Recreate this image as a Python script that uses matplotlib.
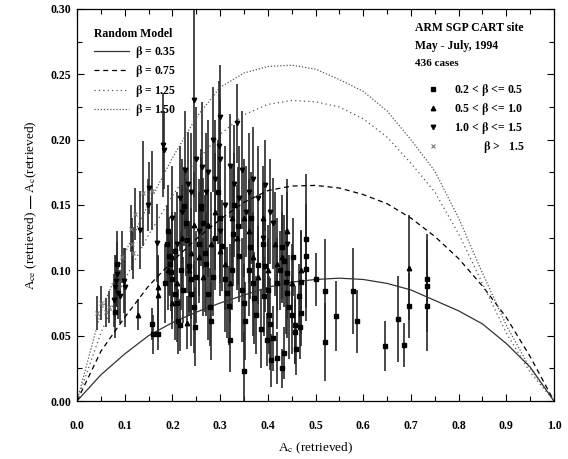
import matplotlib
matplotlib.use('Agg')
import matplotlib.pyplot as plt
from matplotlib.lines import Line2D

plt.rcParams['font.family'] = ['Liberation Serif', 'DejaVu Serif']
plt.rcParams['mathtext.fontset'] = 'stix'

################################################################
# random model curves
model_x = [0.0, 0.05, 0.1, 0.15, 0.2, 0.25, 0.3, 0.35, 0.4, 0.45, 0.5,
           0.55, 0.6, 0.65, 0.7, 0.75, 0.8, 0.85, 0.9, 0.95, 1.0]
beta_035 = [0.0, 0.020, 0.036, 0.050, 0.060, 0.068, 0.075, 0.081, 0.087, 0.091, 0.093,
            0.094, 0.093, 0.090, 0.085, 0.077, 0.069, 0.059, 0.044, 0.026, 0.0]
beta_075 = [0.0, 0.038, 0.064, 0.088, 0.107, 0.124, 0.139, 0.152, 0.161, 0.1645, 0.165,
            0.163, 0.158, 0.151, 0.140, 0.126, 0.109, 0.088, 0.064, 0.034, 0.0]
beta_125 = [0.0, 0.052, 0.093, 0.127, 0.157, 0.183, 0.204, 0.219, 0.227, 0.230, 0.229,
            0.225, 0.216, 0.202, 0.182, 0.160, 0.128, 0.090, 0.052, 0.022, 0.0]
beta_150 = [0.0, 0.068, 0.113, 0.151, 0.186, 0.217, 0.240, 0.251, 0.256, 0.257, 0.254,
            0.246, 0.237, 0.222, 0.200, 0.176, 0.140, 0.098, 0.058, 0.025, 0.0]

# 0.2 < beta <= 0.5 (squares)
sq_x = [0.080, 0.084, 0.158, 0.160, 0.169, 0.188, 0.192, 0.195, 0.198, 0.200, 0.205, 0.210, 0.212, 0.216,
        0.225, 0.228, 0.230, 0.235, 0.238, 0.240, 0.245, 0.248, 0.260, 0.265, 0.268, 0.270, 0.275, 0.278, 0.280,
        0.295, 0.300, 0.305, 0.310, 0.315, 0.318, 0.320, 0.330, 0.338, 0.340, 0.345, 0.350, 0.352, 0.351,
        0.365, 0.370, 0.372, 0.375, 0.385, 0.390, 0.395, 0.398, 0.400, 0.403, 0.405, 0.407, 0.410, 0.419, 0.430, 0.433,
        0.430, 0.435, 0.438, 0.440, 0.445, 0.450, 0.457, 0.458, 0.460, 0.467, 0.470, 0.470, 0.481, 0.481, 0.481,
        0.500, 0.520, 0.520, 0.544, 0.579, 0.588, 0.645, 0.672, 0.686, 0.695, 0.734, 0.734, 0.734,
        0.185, 0.190, 0.205, 0.218, 0.222, 0.250, 0.255, 0.285, 0.290, 0.325, 0.328, 0.360, 0.362, 0.380,
        0.392, 0.420, 0.425, 0.440, 0.452, 0.465]
sq_y = [0.068, 0.105, 0.059, 0.051, 0.051, 0.120, 0.111, 0.105, 0.099, 0.093, 0.082, 0.075, 0.061, 0.058,
        0.149, 0.136, 0.123, 0.103, 0.093, 0.082, 0.072, 0.057, 0.149, 0.136, 0.113, 0.105, 0.082, 0.072, 0.061,
        0.160, 0.140, 0.119, 0.093, 0.083, 0.073, 0.047, 0.150, 0.134, 0.111, 0.085, 0.075, 0.061, 0.023,
        0.140, 0.090, 0.079, 0.066, 0.055, 0.120, 0.103, 0.047, 0.085, 0.066, 0.059, 0.031, 0.048, 0.033, 0.025, 0.037,
        0.118, 0.107, 0.091, 0.083, 0.072, 0.066, 0.053, 0.058, 0.040, 0.057, 0.091, 0.067, 0.124, 0.111, 0.101,
        0.093, 0.084, 0.045, 0.065, 0.084, 0.061, 0.042, 0.063, 0.043, 0.073, 0.093, 0.088, 0.073,
        0.090, 0.130, 0.115, 0.100, 0.085, 0.095, 0.120, 0.095, 0.125, 0.100, 0.128, 0.100, 0.118, 0.104,
        0.080, 0.090, 0.100, 0.098, 0.110, 0.080]
sq_e = [0.02, 0.025, 0.012, 0.015, 0.012, 0.03, 0.03, 0.025, 0.03, 0.03, 0.035, 0.03, 0.025, 0.02,
        0.03, 0.04, 0.04, 0.035, 0.03, 0.04, 0.035, 0.03, 0.04, 0.035, 0.045, 0.04, 0.035, 0.03, 0.03,
        0.04, 0.045, 0.035, 0.04, 0.035, 0.03, 0.025, 0.04, 0.045, 0.035, 0.04, 0.03, 0.03, 0.03,
        0.035, 0.04, 0.035, 0.03, 0.03, 0.04, 0.035, 0.02, 0.04, 0.03, 0.035, 0.02, 0.025, 0.02, 0.015, 0.02,
        0.04, 0.035, 0.04, 0.035, 0.04, 0.03, 0.025, 0.03, 0.02, 0.025, 0.04, 0.025, 0.05, 0.04, 0.04,
        0.02, 0.04, 0.03, 0.027, 0.033, 0.024, 0.019, 0.033, 0.017, 0.025, 0.035, 0.035, 0.035,
        0.03, 0.035, 0.03, 0.03, 0.025, 0.035, 0.04, 0.03, 0.04, 0.03, 0.04, 0.035, 0.04, 0.03,
        0.03, 0.035, 0.03, 0.035, 0.03, 0.025]

# 0.5 < beta <= 1.0 (up triangles)
ut_x = [0.128, 0.169, 0.169, 0.190, 0.200, 0.200, 0.220, 0.230, 0.240, 0.245, 0.260, 0.265, 0.280,
        0.290, 0.310, 0.320, 0.335, 0.350, 0.370, 0.380, 0.400, 0.415, 0.430, 0.440, 0.470, 0.695,
        0.210, 0.235, 0.255, 0.275, 0.300, 0.325, 0.360, 0.390, 0.420, 0.450]
ut_y = [0.066, 0.081, 0.087, 0.100, 0.110, 0.075, 0.125, 0.060, 0.113, 0.135, 0.148, 0.095, 0.120,
        0.145, 0.105, 0.090, 0.125, 0.140, 0.110, 0.095, 0.100, 0.120, 0.110, 0.130, 0.100, 0.102,
        0.090, 0.100, 0.110, 0.135, 0.115, 0.140, 0.130, 0.140, 0.105, 0.090]
ut_e = [0.012, 0.03, 0.025, 0.03, 0.035, 0.02, 0.04, 0.02, 0.035, 0.04, 0.045, 0.03, 0.04,
        0.045, 0.035, 0.03, 0.04, 0.045, 0.035, 0.03, 0.035, 0.04, 0.035, 0.04, 0.03, 0.04,
        0.03, 0.035, 0.035, 0.04, 0.035, 0.04, 0.04, 0.04, 0.035, 0.03]

# 1.0 < beta <= 1.5 (down triangles)
dt_x = [0.078, 0.080, 0.082, 0.084, 0.087, 0.090, 0.099, 0.100, 0.133, 0.149, 0.150, 0.167, 0.181,
        0.183, 0.200, 0.210, 0.215, 0.226, 0.232, 0.246, 0.255, 0.262, 0.270, 0.286, 0.298, 0.299,
        0.300, 0.300, 0.310, 0.330, 0.335, 0.345, 0.360, 0.380, 0.390, 0.405, 0.410, 0.440,
        0.220, 0.240, 0.250, 0.275, 0.290, 0.320, 0.340, 0.355, 0.370, 0.395]
dt_y = [0.077, 0.087, 0.092, 0.097, 0.083, 0.080, 0.092, 0.087, 0.131, 0.150, 0.163, 0.121, 0.196,
        0.192, 0.140, 0.120, 0.155, 0.177, 0.166, 0.230, 0.130, 0.179, 0.160, 0.200, 0.195, 0.217,
        0.185, 0.130, 0.150, 0.166, 0.2125, 0.177, 0.160, 0.155, 0.125, 0.145, 0.136, 0.120,
        0.145, 0.160, 0.185, 0.175, 0.170, 0.180, 0.155, 0.145, 0.170, 0.165]
dt_e = [0.02, 0.025, 0.02, 0.025, 0.02, 0.02, 0.025, 0.03, 0.03, 0.02, 0.02, 0.03, 0.04,
        0.03, 0.04, 0.04, 0.04, 0.045, 0.04, 0.074, 0.04, 0.05, 0.045, 0.04, 0.05, 0.04,
        0.045, 0.04, 0.045, 0.045, 0.03, 0.045, 0.045, 0.04, 0.04, 0.04, 0.035, 0.04,
        0.04, 0.045, 0.04, 0.04, 0.045, 0.04, 0.04, 0.035, 0.04, 0.035]

# beta > 1.5 (x marks)
xm_x = [0.042, 0.051, 0.060, 0.067, 0.113, 0.115, 0.117, 0.139, 0.158, 0.121, 0.095]
xm_y = [0.067, 0.075, 0.068, 0.072, 0.132, 0.120, 0.113, 0.159, 0.161, 0.143, 0.110]
xm_e = [0.013, 0.013, 0.011, 0.012, 0.018, 0.02, 0.02, 0.04, 0.03, 0.02, 0.02]

x_ticks = [0.0, 0.1, 0.2, 0.3, 0.4, 0.5, 0.6, 0.7, 0.8, 0.9, 1.0]
y_ticks = [0.00, 0.05, 0.10, 0.15, 0.20, 0.25, 0.30]
################################################################

fig = plt.figure(figsize=(5.68, 4.59), dpi=100)
ax = fig.add_axes([77/568, 1 - 401/459, 477/568, 392/459])

ebar = dict(ecolor='#2a2a2a', elinewidth=1.2, capsize=0, linestyle='none')
ax.errorbar(sq_x, sq_y, yerr=sq_e, fmt='s', ms=2.6, color='k', **ebar)
ax.errorbar(ut_x, ut_y, yerr=ut_e, fmt='^', ms=3.2, color='k', **ebar)
ax.errorbar(dt_x, dt_y, yerr=dt_e, fmt='v', ms=3.2, color='k', **ebar)
ax.errorbar(xm_x, xm_y, yerr=xm_e, fmt='x', ms=3.0, mew=0.8, color='#777777', **ebar)

l1, = ax.plot(model_x, beta_035, color='#333333', lw=0.9, ls='-')
l2, = ax.plot(model_x, beta_075, color='k', lw=0.9, ls=(0, (4, 3)))
l3, = ax.plot(model_x, beta_125, color='#555555', lw=0.9, ls=(0, (1, 2.5)))
l4, = ax.plot(model_x, beta_150, color='#555555', lw=0.9, ls=(0, (1, 1.5)))

ax.set_xlim(0, 1)
ax.set_ylim(0, 0.30)
ax.set_xticks(x_ticks)
ax.set_yticks(y_ticks)
ax.set_xticklabels(['%.1f' % t for t in x_ticks])
ax.set_yticklabels(['%.2f' % t for t in y_ticks])
ax.set_xticks([t + 0.05 for t in x_ticks[:-1]], minor=True)
ax.set_yticks([t + 0.025 for t in y_ticks[:-1]], minor=True)
ax.tick_params(which='both', direction='in', top=True, right=True, width=0.8)
ax.tick_params(which='major', length=5)
ax.tick_params(which='minor', length=3.5)
ax.tick_params(axis='x', which='major', pad=14)
ax.tick_params(axis='y', which='major', pad=4)
for lab in ax.get_xticklabels() + ax.get_yticklabels():
    lab.set_fontweight('bold')
    lab.set_fontsize(8.5)
for sp in ax.spines.values():
    sp.set_linewidth(0.9)

ax.set_xlabel(r'A$_\mathrm{c}$ (retrieved)', fontsize=9.5, labelpad=6)
ax.set_ylabel(r'A$_\mathrm{ce}$ (retrieved) $\mathbf{—}$ A$_\mathrm{c}$(retrieved)', fontsize=9.5, labelpad=8)

leg1 = ax.legend([l1, l2, l3, l4],
                 [r'$\mathbf{\beta}$ = 0.35', r'$\mathbf{\beta}$ = 0.75',
                  r'$\mathbf{\beta}$ = 1.25', r'$\mathbf{\beta}$ = 1.50'],
                 title='Random Model', loc='upper left', bbox_to_anchor=(0.025, 0.963),
                 frameon=False, alignment='left', handlelength=3.0, handletextpad=0.5,
                 labelspacing=0.3, borderaxespad=0,
                 prop={'weight': 'bold', 'size': 8.5},
                 title_fontproperties={'weight': 'bold', 'size': 8.5})
ax.add_artist(leg1)

ax.text(0.709, 0.952, 'ARM SGP CART site', transform=ax.transAxes, fontsize=8.5,
        fontweight='bold', va='center', ha='left')
ax.text(0.709, 0.906, 'May - July, 1994', transform=ax.transAxes, fontsize=8.5,
        fontweight='bold', va='center', ha='left')
ax.text(0.709, 0.862, '436 cases', transform=ax.transAxes, fontsize=8,
        fontweight='bold', va='center', ha='left')

h1 = Line2D([], [], marker='s', ms=2.6, color='k', ls='none')
h2 = Line2D([], [], marker='^', ms=3.2, color='k', ls='none')
h3 = Line2D([], [], marker='v', ms=3.2, color='k', ls='none')
h4 = Line2D([], [], marker='x', ms=3.0, mew=0.8, color='#777777', ls='none')
ax.legend([h1, h2, h3, h4],
          [r'0.2 < $\mathbf{\beta}$ <= 0.5', r'0.5 < $\mathbf{\beta}$ <= 1.0',
           r'1.0 < $\mathbf{\beta}$ <= 1.5', r'          $\mathbf{\beta}$ >   1.5'],
          loc='upper left', bbox_to_anchor=(0.725, 0.825), frameon=False,
          handlelength=1.0, handletextpad=1.2, labelspacing=0.25, borderaxespad=0,
          prop={'weight': 'bold', 'size': 8.5})

fig.savefig('out.png', dpi=100)
